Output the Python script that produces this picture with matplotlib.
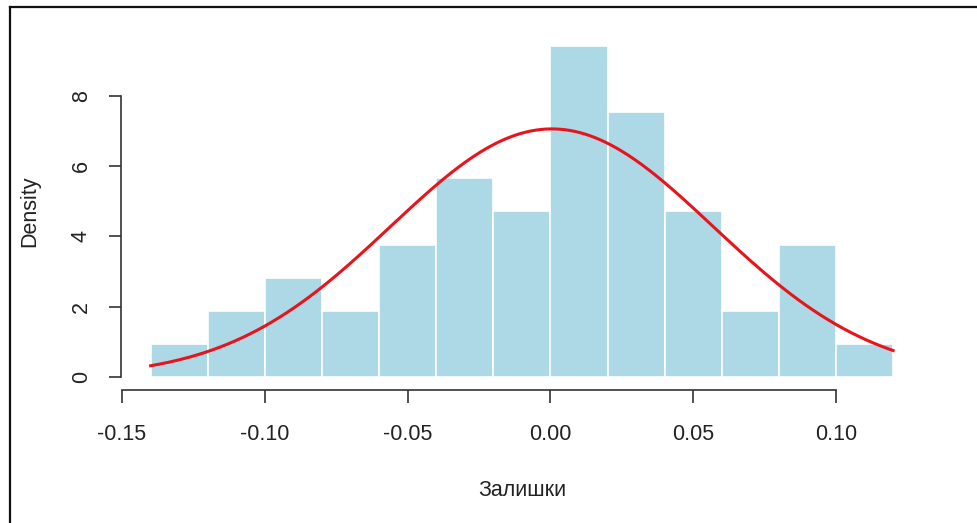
import matplotlib
matplotlib.use("Agg")
import matplotlib.pyplot as plt
import numpy as np
from matplotlib.lines import Line2D

plt.rcParams['font.family'] = ['Liberation Sans', 'DejaVu Sans']

# histogram of residuals (density scale), bins of width 0.02
bin_edges = [-0.14, -0.12, -0.10, -0.08, -0.06, -0.04, -0.02, 0.00,
             0.02, 0.04, 0.06, 0.08, 0.10, 0.12]
densities = [0.94, 1.89, 2.83, 1.89, 3.77, 5.66, 4.72, 9.43,
             7.55, 4.72, 1.89, 3.77, 0.94]

# fitted normal curve
res_mean = 0.0005
res_sd = 0.0565

x_ticks = [-0.15, -0.10, -0.05, 0.00, 0.05, 0.10]
x_ticklabels = ["-0.15", "-0.10", "-0.05", "0.00", "0.05", "0.10"]
y_ticks = [0, 2, 4, 6, 8]

W, H = 977, 523
fig = plt.figure(figsize=(W / 100, H / 100), dpi=100)

# plot region in pixels (R style, 4% padding around the data)
left, right, top, bottom = 120.9, 922.8, 32.4, 390.3
ax = fig.add_axes([left / W, 1 - bottom / H, (right - left) / W, (bottom - top) / H])

widths = np.diff(bin_edges)
ax.bar(bin_edges[:-1], densities, width=widths, align='edge',
       color='#add8e6', edgecolor='white', linewidth=1.2)

xs = np.linspace(bin_edges[0], bin_edges[-1], 300)
ys = np.exp(-0.5 * ((xs - res_mean) / res_sd) ** 2) / (res_sd * np.sqrt(2 * np.pi))
ax.plot(xs, ys, color='#e8141c', lw=2.2)

span = bin_edges[-1] - bin_edges[0]
ax.set_xlim(bin_edges[0] - 0.04 * span, bin_edges[-1] + 0.04 * span)
ymax = max(densities)
ax.set_ylim(-0.04 * ymax, ymax * 1.04)

for s in ['top', 'right']:
    ax.spines[s].set_visible(False)
ax.spines['left'].set_bounds(0, 8)
ax.spines['bottom'].set_bounds(-0.15, 0.10)
for s in ['left', 'bottom']:
    ax.spines[s].set_color('#333333')
    ax.spines[s].set_linewidth(1.2)

ax.set_xticks(x_ticks)
ax.set_xticklabels(x_ticklabels)
ax.set_yticks(y_ticks)
ax.tick_params(axis='both', direction='out', length=9, width=1.2, color='#333333',
               labelsize=15.5, labelcolor='#222222')
ax.tick_params(axis='x', pad=15)
ax.tick_params(axis='y', pad=12)
for lbl in ax.get_yticklabels():
    lbl.set_rotation(90)
    lbl.set_va('center')

ax.set_xlabel("Залишки", fontsize=15.5, color='#222222', va='center')
ax.xaxis.set_label_coords(0.5, (bottom - 490) / (bottom - top))
ax.set_ylabel("Density", fontsize=15.5, color='#222222', va='center', ha='center')
ax.yaxis.set_label_coords((30 - left) / (right - left), 0.5)

# outer frame (top and left edges of the screenshot border)
fig.add_artist(Line2D([10 / W, 1], [1 - 7 / H, 1 - 7 / H], color='#111111', lw=1.6,
                      transform=fig.transFigure))
fig.add_artist(Line2D([10 / W, 10 / W], [0, 1 - 7 / H], color='#111111', lw=1.6,
                      transform=fig.transFigure))

fig.savefig("out.png", dpi=100)
